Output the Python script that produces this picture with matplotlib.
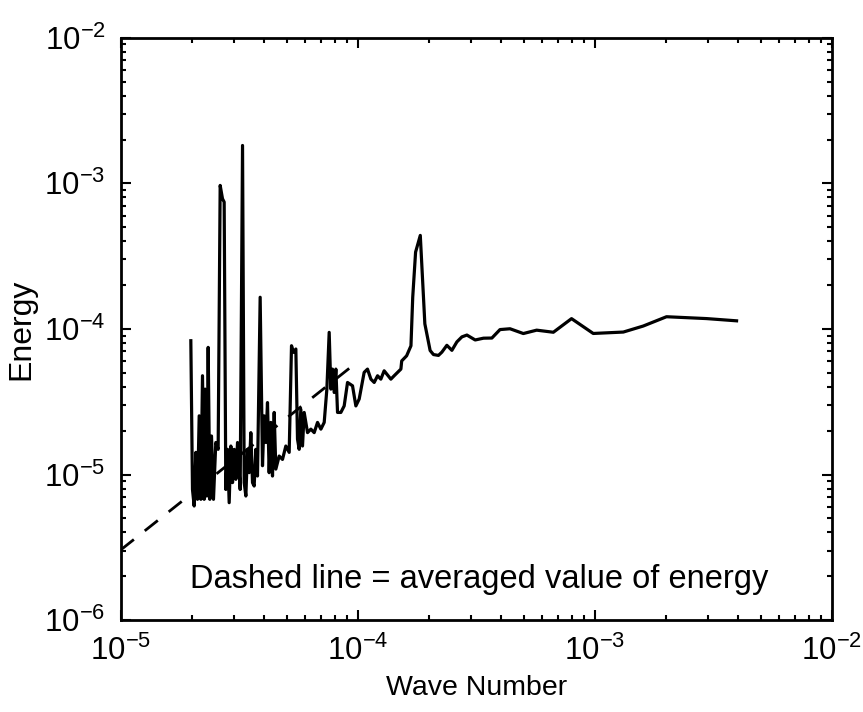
import numpy as np
import matplotlib
matplotlib.use('Agg')
import matplotlib.pyplot as plt

plt.rcParams['font.family'] = ['Liberation Sans', 'DejaVu Sans']
plt.rcParams['mathtext.default'] = 'regular'

# spiky low wave number part of the spectrum
wn_low = [1.974e-5, 2.006e-5, 2.039e-5, 2.073e-5, 2.106e-5, 2.141e-5, 2.176e-5, 2.211e-5,
          2.247e-5, 2.269e-5, 2.306e-5, 2.336e-5, 2.374e-5, 2.413e-5, 2.460e-5, 2.516e-5,
          2.574e-5, 2.625e-5, 2.685e-5, 2.729e-5, 2.773e-5, 2.819e-5, 2.865e-5, 2.912e-5,
          2.960e-5, 3.008e-5, 3.057e-5, 3.107e-5, 3.188e-5, 3.262e-5, 3.315e-5, 3.369e-5,
          3.424e-5, 3.479e-5, 3.536e-5, 3.594e-5, 3.652e-5, 3.712e-5, 3.772e-5, 3.871e-5,
          3.960e-5, 4.025e-5, 4.091e-5, 4.157e-5, 4.225e-5, 4.294e-5, 4.364e-5, 4.436e-5,
          4.508e-5, 4.656e-5, 4.809e-5, 4.968e-5, 5.132e-5, 5.249e-5, 5.352e-5, 5.475e-5,
          5.564e-5, 5.655e-5, 5.747e-5, 5.841e-5, 5.937e-5, 6.133e-5, 6.335e-5, 6.543e-5,
          6.758e-5, 6.982e-5, 7.211e-5, 7.400e-5, 7.569e-5, 7.693e-5, 7.818e-5, 7.946e-5,
          8.076e-5, 8.208e-5, 8.478e-5, 8.756e-5, 9.045e-5, 9.495e-5, 9.808e-5, 1.013e-4,
          1.063e-4, 1.098e-4, 1.135e-4, 1.172e-4, 1.211e-4, 1.250e-4, 1.291e-4, 1.378e-4,
          1.423e-4, 1.519e-4]
en_low = [8.3e-5, 7.9e-6, 6.08e-6, 1.42e-5, 6.76e-6, 2.53e-5, 6.76e-6, 4.77e-5,
          6.76e-6, 3.86e-5, 7.12e-6, 7.47e-5, 6.76e-6, 1.84e-5, 6.76e-6, 1.66e-5,
          1.49e-5, 9.68e-4, 7.84e-4, 7.44e-4, 7.9e-6, 1.49e-5, 6.41e-6, 1.57e-5,
          8.8e-6, 1.49e-5, 9.27e-6, 1.66e-5, 7.9e-6, 1.82e-3, 8.8e-6, 7.12e-6,
          1.49e-5, 1.03e-5, 1.94e-5, 8.8e-6, 8.34e-6, 1.49e-5, 9.77e-6, 1.65e-4,
          1.15e-5, 2.53e-5, 1.66e-5, 3.12e-5, 1.03e-5, 2.28e-5, 9.77e-6, 2.67e-5,
          1.09e-5, 1.34e-5, 1.27e-5, 1.57e-5, 1.42e-5, 7.67e-5, 6.9e-5, 7.28e-5,
          1.75e-5, 1.49e-5, 2.81e-5, 1.57e-5, 2.67e-5, 1.94e-5, 2.05e-5, 1.94e-5,
          2.28e-5, 2.05e-5, 2.28e-5, 3.86e-5, 9.47e-5, 3.86e-5, 5.3e-5, 3.66e-5,
          5.3e-5, 2.67e-5, 2.67e-5, 2.96e-5, 4.29e-5, 4.07e-5, 2.96e-5, 3.3e-5,
          5.03e-5, 5.3e-5, 4.52e-5, 4.29e-5, 4.77e-5, 4.52e-5, 5.16e-5, 4.52e-5,
          4.77e-5, 5.3e-5]

# smoother high wave number part
wn_high = [1.531e-4, 1.606e-4, 1.675e-4, 1.704e-4, 1.752e-4, 1.834e-4, 1.917e-4, 2.018e-4,
           2.084e-4, 2.188e-4, 2.262e-4, 2.374e-4, 2.493e-4, 2.617e-4, 2.747e-4, 2.884e-4,
           3.126e-4, 3.388e-4, 3.676e-4, 3.978e-4, 4.384e-4, 4.99e-4, 5.68e-4, 6.68e-4,
           7.97e-4, 9.84e-4, 1.318e-3, 1.599e-3, 2.005e-3, 2.958e-3, 3.96e-3]
en_high = [6.03e-5, 6.54e-5, 7.66e-5, 1.65e-4, 3.37e-4, 4.39e-4, 1.084e-4, 7.11e-5,
           6.67e-5, 6.58e-5, 6.93e-5, 7.72e-5, 7.13e-5, 8.15e-5, 8.82e-5, 9.08e-5,
           8.40e-5, 8.64e-5, 8.66e-5, 9.9e-5, 1.003e-4, 9.3e-5, 9.81e-5, 9.49e-5,
           1.177e-4, 9.31e-5, 9.52e-5, 1.047e-4, 1.213e-4, 1.178e-4, 1.137e-4]

# averaged energy (dashed)
avg_wn = [1.0e-5, 9.76e-5]
avg_en = [3.04e-6, 5.79e-5]

wave_number = np.array(wn_low + wn_high)
energy = np.array(en_low + en_high)

fig = plt.figure(figsize=(8.63, 7.12), dpi=100)
ax = fig.add_axes([0.140, 0.129, 0.824, 0.818])

ax.loglog(wave_number, energy, color='black', linewidth=2.3)
ax.loglog(avg_wn, avg_en, color='black', linewidth=2.0, linestyle=(0, (6, 5)))

ax.set_xlim(1e-5, 1e-2)
ax.set_ylim(1e-6, 1e-2)

for s in ax.spines.values():
    s.set_linewidth(2.0)
ax.tick_params(which='both', direction='in', top=True, right=True, width=1.5)
ax.tick_params(which='major', length=7, labelsize=22.5, pad=11)
ax.tick_params(which='minor', length=3.5)

ax.set_xlabel('Wave Number', fontsize=20.5, labelpad=6)
ax.set_ylabel('Energy', fontsize=23, labelpad=6)

ax.text(0.097, 0.07, 'Dashed line = averaged value of energy', transform=ax.transAxes,
        fontsize=23.5, va='center', ha='left')

fig.savefig('out.png', dpi=100)
